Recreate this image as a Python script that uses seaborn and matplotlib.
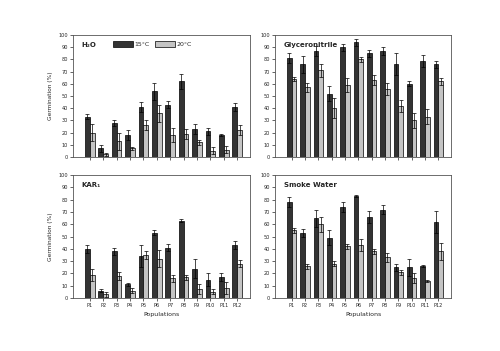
import numpy as np
import pandas as pd
import matplotlib
matplotlib.use("Agg")
import matplotlib.pyplot as plt
import seaborn as sns

sns.set_style("ticks")

populations = ['P1', 'P2', 'P3', 'P4', 'P5', 'P6', 'P7', 'P8', 'P9', 'P10', 'P11', 'P12']
temps = ['15°C', '20°C']
panels = ['H₂O', 'Glyceronitrile', 'KAR₁', 'Smoke Water']

h2o_15 = [33, 7, 28, 18, 41, 54, 43, 62, 23, 21, 18, 41]
h2o_15_err = [2, 3, 2.5, 4, 4, 7, 3, 6, 4, 3, 1, 3]
h2o_20 = [20, 2, 13, 7, 26, 36, 18, 19, 12, 5, 6, 22]
h2o_20_err = [7, 1, 7, 1, 4, 7, 6, 4, 2, 3, 3, 4]

gly_15 = [81, 76, 87, 52, 90, 94, 85, 87, 76, 60, 79, 76]
gly_15_err = [4, 7, 4, 6, 3, 3, 3, 3, 9, 2, 5, 3]
gly_20 = [64, 57, 71, 40, 59, 80, 63, 56, 42, 30, 33, 62]
gly_20_err = [2, 4, 5, 8, 6, 2, 4, 5, 5, 6, 6, 3]

kar_15 = [40, 6, 38, 11, 34, 53, 41, 63, 24, 15, 17, 43]
kar_15_err = [3, 1, 3, 1, 9, 2, 3, 1, 8, 5, 3, 3]
kar_20 = [19, 3, 18, 6, 35, 32, 16, 17, 7, 5, 8, 28]
kar_20_err = [5, 2, 3, 2, 3, 7, 3, 2, 4, 2, 5, 3]

smoke_15 = [78, 53, 65, 49, 74, 83, 66, 72, 25, 25, 26, 62]
smoke_15_err = [4, 3, 7, 6, 4, 1, 5, 4, 3, 7, 1, 9]
smoke_20 = [55, 26, 60, 28, 42, 43, 38, 33, 21, 16, 14, 38]
smoke_20_err = [2, 2, 6, 2, 2, 5, 2, 4, 2, 4, 1, 7]

series = [
    (h2o_15, h2o_15_err, h2o_20, h2o_20_err),
    (gly_15, gly_15_err, gly_20, gly_20_err),
    (kar_15, kar_15_err, kar_20, kar_20_err),
    (smoke_15, smoke_15_err, smoke_20, smoke_20_err),
]

palette = {'15°C': '#333333', '20°C': '#c4c4c4'}

fig = plt.figure(figsize=(5.0, 3.51), dpi=100)
boxes = [
    [0.146, 0.553, 0.354, 0.347],
    [0.550, 0.553, 0.352, 0.347],
    [0.146, 0.151, 0.354, 0.350],
    [0.550, 0.151, 0.352, 0.350],
]

for i, (title, (m15, e15, m20, e20)) in enumerate(zip(panels, series)):
    ax = fig.add_axes(boxes[i])
    df = pd.DataFrame({
        'pop': populations * 2,
        'temp': [temps[0]] * 12 + [temps[1]] * 12,
        'val': m15 + m20,
        'err': e15 + e20,
    })
    sns.barplot(data=df, x='pop', y='val', hue='temp', order=populations,
                hue_order=temps, palette=palette, width=0.72, errorbar=None,
                edgecolor='black', linewidth=0.5, ax=ax, legend=(i == 0))
    # error bars on top of bars
    bars = [p for p in ax.patches if p.get_height() > 0 or True][:24]
    xs = [b.get_x() + b.get_width() / 2 for b in bars]
    ax.errorbar(xs, df['val'], yerr=df['err'], fmt='none', ecolor='black',
                elinewidth=0.5, capsize=1.2, capthick=0.5)
    ax.set_ylim(0, 100)
    ax.set_xlim(-1.25, 11.95)
    ax.set_yticks(range(0, 101, 10))
    ax.tick_params(labelsize=3.6, length=2, width=0.5, pad=1.5)
    for s in ax.spines.values():
        s.set_linewidth(0.6)
        s.set_color('#555555')
    ax.text(0.05, 0.92, title, transform=ax.transAxes, fontsize=5,
            fontweight='bold', va='center')
    if i % 2 == 0:
        ax.set_ylabel('Germination (%)', fontsize=4.2, labelpad=4)
    else:
        ax.set_ylabel('')
    if i >= 2:
        ax.set_xlabel('Populations', fontsize=4.5, labelpad=3)
    else:
        ax.set_xlabel('')
        ax.set_xticklabels([])
    if i == 0:
        ax.legend(loc='upper center', bbox_to_anchor=(0.45, 1.0), ncol=2,
                  frameon=False, fontsize=4.5, handlelength=3.2,
                  handleheight=1.2, columnspacing=0.8, handletextpad=0.3)

fig.savefig('out.png', dpi=100, facecolor='white')
